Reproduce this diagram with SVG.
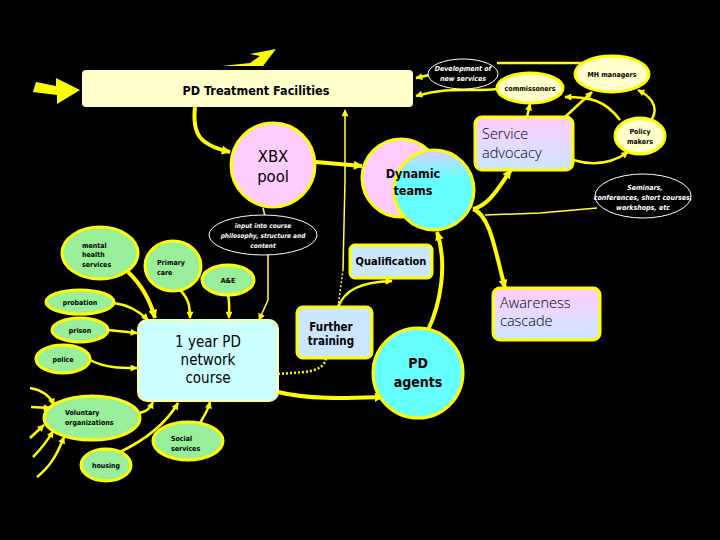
<svg xmlns="http://www.w3.org/2000/svg" width="720" height="540" viewBox="0 0 720 540">
<defs>
<marker id="ah" viewBox="0 0 10 10" refX="9" refY="5" markerWidth="10" markerHeight="9" markerUnits="userSpaceOnUse" orient="auto">
<path d="M0,0 L10,5 L0,10 z" fill="#ffff00"/>
</marker>
<marker id="ahs" viewBox="0 0 10 10" refX="9" refY="5" markerWidth="8" markerHeight="7" markerUnits="userSpaceOnUse" orient="auto">
<path d="M0,0 L10,5 L0,10 z" fill="#ffff00"/>
</marker>
<linearGradient id="pb" x1="0" y1="0" x2="0" y2="1">
<stop offset="0" stop-color="#ffccff"/>
<stop offset="1" stop-color="#cce6ff"/>
</linearGradient>
<linearGradient id="cy" x1="0" y1="0" x2="0" y2="1">
<stop offset="0" stop-color="#ddccff"/>
<stop offset="0.35" stop-color="#66ffff"/>
<stop offset="1" stop-color="#66ffff"/>
</linearGradient>
<style>
.c{fill:none;stroke:#ffff00;stroke-width:2.5}
.ct{fill:none;stroke:#ffff00;stroke-width:4}
.cn{fill:none;stroke:#ffff44;stroke-width:1.5}
.g{fill:#99ee99;stroke:#ffff00;stroke-width:3}
.y{fill:#ffffcc;stroke:#ffff00;stroke-width:3}
.bk{fill:#000;stroke:#fff;stroke-width:1}
.t{font-family:"DejaVu Sans Condensed","DejaVu Sans",sans-serif;font-stretch:condensed;fill:#000}
.tb{font-family:"DejaVu Sans Condensed","DejaVu Sans",sans-serif;font-stretch:condensed;font-weight:bold;fill:#000}
.tw{font-family:"DejaVu Sans Condensed","DejaVu Sans",sans-serif;font-stretch:condensed;font-style:italic;font-weight:bold;fill:#fff;text-anchor:middle}
.tl{font-family:"Open Sans","DejaVu Sans",sans-serif;font-weight:300;fill:#000}
.m{text-anchor:middle}
</style>
</defs>
<rect width="720" height="540" fill="#000"/>

<g id="connectors">
<polygon points="36,82 56,86 56,78 80,90 57,104 57,95 33,92" fill="#ffff00"/>
<polygon points="222,66 250,63 260,56 250,54 276,49 263,66" fill="#ffff00"/>
<path class="ct" d="M195,107 C192,135 200,145 230,152" marker-end="url(#ah)"/>
<path class="cn" d="M343,270 L345,180 L345,110" marker-end="url(#ahs)"/>
<path class="cn" d="M338,307 L343,270" stroke-dasharray="2,2"/>
<path class="ct" d="M316,162 L362,166" marker-end="url(#ah)"/>
<path class="cn" d="M263,208 L265,216"/>
<path class="cn" d="M268,254 L268,300 L259,320" marker-end="url(#ahs)"/>
<path class="c" d="M429,75 L416,78" marker-end="url(#ahs)"/>
<path class="c" d="M497,89 C470,92 450,86 416,96" marker-end="url(#ahs)"/>
<path class="c" d="M590,63 L497,63"/>
<path class="c" d="M527,117 L530,104" marker-end="url(#ahs)"/>
<path class="c" d="M565,117 L592,92" marker-end="url(#ahs)"/>
<path class="c" d="M620,120 C605,100 590,97 565,97" marker-end="url(#ahs)"/>
<path class="c" d="M652,119 C660,105 648,95 638,90" marker-end="url(#ahs)"/>
<path class="c" d="M573,160 C590,165 610,165 628,152" marker-end="url(#ahs)"/>
<path class="ct" d="M473,209 C490,205 500,185 511,170" marker-end="url(#ah)"/>
<path class="ct" d="M473,209 C490,215 495,250 505,288" marker-end="url(#ah)"/>
<path class="cn" d="M485,215 L540,213 L597,208"/>
<path class="ct" d="M428,330 C440,305 448,265 437,232" marker-end="url(#ah)"/>
<path class="c" d="M338,307 C345,290 360,282 392,281" marker-end="url(#ahs)"/>
<path class="c" d="M278,374 L305,372 C320,370 325,365 326,358" stroke-dasharray="2,2"/>
<path class="ct" d="M278,392 C310,400 350,398 383,397" marker-end="url(#ah)"/>
<path class="ct" d="M128,272 C142,285 150,300 155,318" marker-end="url(#ah)"/>
<path class="c" d="M180,290 C188,298 190,305 190,318" marker-end="url(#ahs)"/>
<path class="c" d="M228,295 C230,303 229,310 229,318" marker-end="url(#ahs)"/>
<path class="c" d="M114,303 C130,305 140,312 148,320" marker-end="url(#ahs)"/>
<path class="c" d="M108,330 L137,333" marker-end="url(#ahs)"/>
<path class="c" d="M90,360 C105,368 120,368 137,368" marker-end="url(#ahs)"/>
<path class="c" d="M139,413 C148,411 150,408 153,402" marker-end="url(#ahs)"/>
<path class="c" d="M120,452 C145,440 165,425 178,403" marker-end="url(#ahs)"/>
<path class="c" d="M200,423 C205,415 208,410 210,402" marker-end="url(#ahs)"/>
<path class="c" d="M30,388 C42,390 50,396 54,405" marker-end="url(#ahs)"/>
<path class="c" d="M31,407 L50,408" marker-end="url(#ahs)"/>
<path class="c" d="M30,438 L44,425" marker-end="url(#ahs)"/>
<path class="c" d="M33,457 C42,448 48,440 53,431" marker-end="url(#ahs)"/>
<path class="c" d="M37,477 C52,465 58,452 64,437" marker-end="url(#ahs)"/>
</g>

<g id="pd-treatment">
<rect x="82" y="70" width="331" height="37" rx="4" fill="#ffffcc"/>
<text class="tb m" x="256" y="95" font-size="12.5">PD Treatment Facilities</text>
</g>
<g id="development">
<ellipse class="bk" cx="463" cy="74" rx="35" ry="15"/>
<text class="tw" x="463" y="71" font-size="7">Development of</text>
<text class="tw" x="463" y="81" font-size="7">new services</text>
</g>
<g id="commissoners">
<ellipse class="y" cx="530" cy="88" rx="33" ry="15"/>
<text class="tb m" x="530" y="91" font-size="7">commissoners</text>
</g>
<g id="mh-managers">
<ellipse class="y" cx="612" cy="74" rx="37" ry="18"/>
<text class="tb m" x="612" y="77" font-size="7">MH managers</text>
</g>
<g id="policy-makers">
<ellipse class="y" cx="640" cy="136" rx="25" ry="18"/>
<text class="tb m" x="640" y="134" font-size="7">Policy</text>
<text class="tb m" x="640" y="144" font-size="7">makers</text>
</g>
<g id="service-advocacy">
<rect x="475" y="117" width="98" height="53" rx="7" fill="url(#pb)" stroke="#ffff00" stroke-width="3"/>
<text class="tl" x="482" y="139" font-size="14.5">Service</text>
<text class="tl" x="482" y="158" font-size="14.5">advocacy</text>
</g>
<g id="seminars">
<ellipse class="bk" cx="643" cy="196" rx="48" ry="22"/>
<text class="tw" x="645" y="190" font-size="7" font-weight="normal">Seminars,</text>
<text class="tw" x="643" y="200" font-size="7" font-weight="normal">conferences, short courses,</text>
<text class="tw" x="643" y="210" font-size="7" font-weight="normal">workshops, etc</text>
</g>
<g id="xbx-pool">
<circle cx="273" cy="165" r="42" fill="#ffccff" stroke="#ffff00" stroke-width="3"/>
<text class="t m" x="273" y="162" font-size="16.5">XBX</text>
<text class="t m" x="273" y="182" font-size="16.5">pool</text>
</g>
<g id="dynamic-teams">
<circle cx="401" cy="178" r="39" fill="#ffccff" stroke="#ffff00" stroke-width="3"/>
<circle cx="434" cy="190" r="40" fill="url(#cy)" stroke="#ffff00" stroke-width="3"/>
<text class="tb m" x="413" y="178" font-size="12.5">Dynamic</text>
<text class="tb m" x="413" y="195" font-size="12.5">teams</text>
</g>
<g id="input-course">
<ellipse class="bk" cx="263" cy="235" rx="54" ry="20"/>
<text class="tw" x="263" y="228" font-size="6.5">input into course</text>
<text class="tw" x="263" y="238" font-size="6.5">philosophy, structure and</text>
<text class="tw" x="263" y="248" font-size="6.5">content</text>
</g>
<g id="mental-health">
<ellipse class="g" cx="100" cy="253" rx="38" ry="26"/>
<text class="tb" x="82" y="248" font-size="7">mental</text>
<text class="tb" x="82" y="257" font-size="7">health</text>
<text class="tb" x="82" y="267" font-size="7">services</text>
</g>
<g id="primary-care">
<ellipse class="g" cx="173" cy="266" rx="28" ry="25"/>
<text class="tb" x="157" y="265" font-size="7">Primary</text>
<text class="tb" x="157" y="275" font-size="7">care</text>
</g>
<g id="ae">
<ellipse class="g" cx="228" cy="280" rx="26" ry="15"/>
<text class="tb m" x="228" y="283" font-size="7">A&amp;E</text>
</g>
<g id="qualification">
<rect x="350" y="245" width="82" height="33" rx="5" fill="#cce6ff" stroke="#ffff00" stroke-width="3"/>
<text class="tb m" x="391" y="265" font-size="11">Qualification</text>
</g>
<g id="probation">
<ellipse class="g" cx="80" cy="302" rx="34" ry="12"/>
<text class="tb m" x="80" y="305" font-size="7">probation</text>
</g>
<g id="prison">
<ellipse class="g" cx="80" cy="330" rx="28" ry="12"/>
<text class="tb m" x="80" y="333" font-size="7">prison</text>
</g>
<g id="police">
<ellipse class="g" cx="63" cy="359" rx="27" ry="14"/>
<text class="tb m" x="63" y="362" font-size="7">police</text>
</g>
<g id="course">
<rect x="138" y="320" width="140" height="81" rx="9" fill="#ccffff" stroke="#ffff99" stroke-width="2"/>
<text class="t m" x="208" y="347" font-size="15">1 year PD</text>
<text class="t m" x="208" y="365" font-size="15">network</text>
<text class="t m" x="208" y="383" font-size="15">course</text>
</g>
<g id="further-training">
<rect x="297" y="307" width="75" height="51" rx="6" fill="#cce6ff" stroke="#ffff00" stroke-width="3"/>
<text class="tb m" x="331" y="331" font-size="11.5">Further</text>
<text class="tb m" x="331" y="345" font-size="11.5">training</text>
</g>
<g id="pd-agents">
<circle cx="418" cy="373" r="45" fill="#66ffff" stroke="#ffff00" stroke-width="3"/>
<text class="tb m" x="418" y="368" font-size="14">PD</text>
<text class="tb m" x="418" y="387" font-size="14">agents</text>
</g>
<g id="awareness">
<rect x="493" y="288" width="107" height="52" rx="7" fill="url(#pb)" stroke="#ffff00" stroke-width="3"/>
<text class="tl" x="500" y="308" font-size="14.5">Awareness</text>
<text class="tl" x="500" y="326" font-size="14.5">cascade</text>
</g>
<g id="voluntary">
<ellipse class="g" cx="92" cy="418" rx="48" ry="22"/>
<text class="tb" x="65" y="415" font-size="7">Voluntary</text>
<text class="tb" x="65" y="425" font-size="7">organizations</text>
</g>
<g id="social-services">
<ellipse class="g" cx="188" cy="441" rx="35" ry="19"/>
<text class="tb" x="171" y="441" font-size="7">Social</text>
<text class="tb" x="171" y="451" font-size="7">services</text>
</g>
<g id="housing">
<ellipse class="g" cx="106" cy="465" rx="25" ry="16"/>
<text class="tb m" x="106" y="468" font-size="7">housing</text>
</g>
</svg>
